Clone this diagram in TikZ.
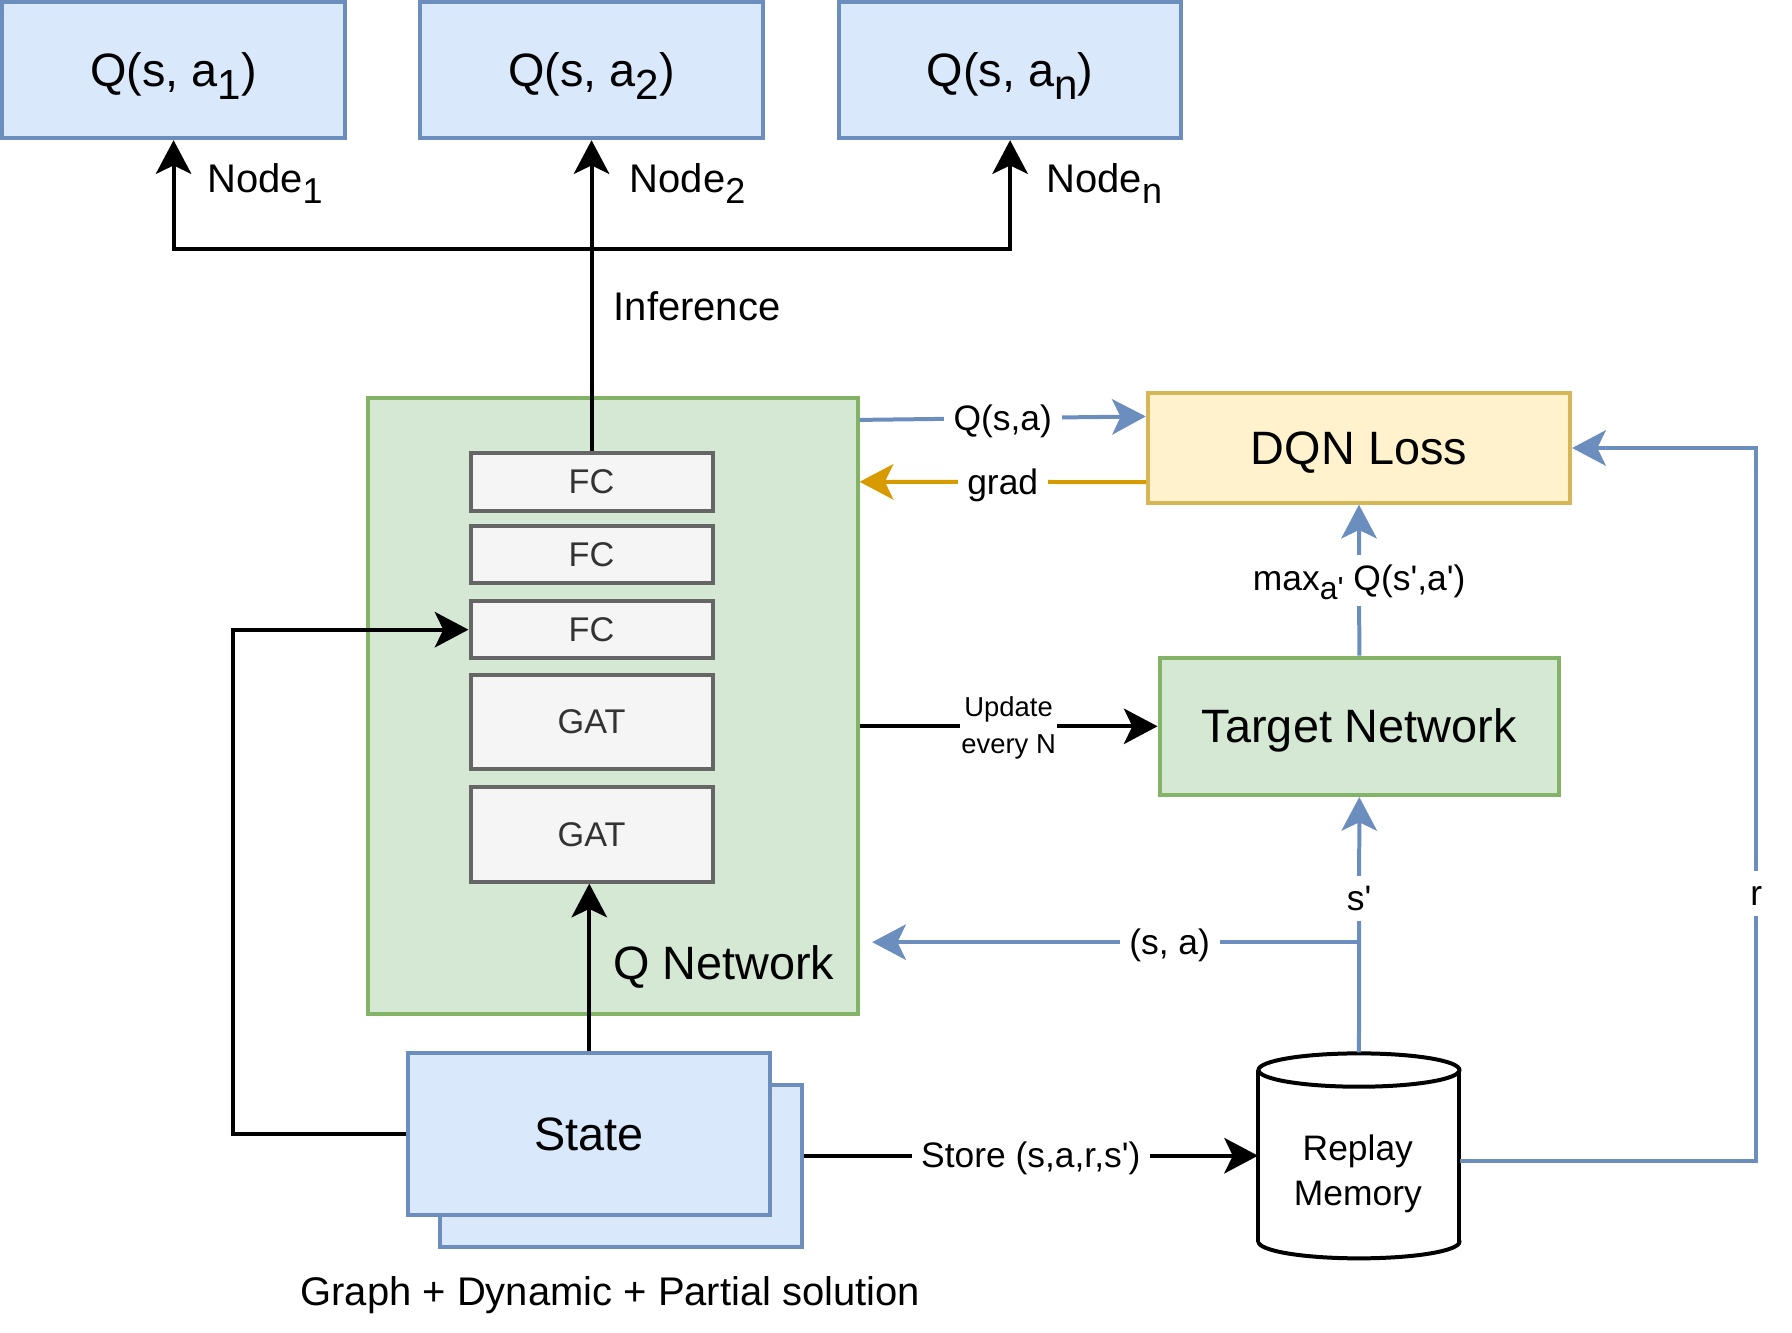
\documentclass[tikz,border=0pt]{standalone}
\usepackage{fontspec}
\setmainfont{Liberation Sans}
\usepackage{graphicx}
\usetikzlibrary{arrows.meta,calc}
\definecolor{bfill}{HTML}{DAE8FC}
\definecolor{bline}{HTML}{6C8EBF}
\definecolor{gfill}{HTML}{D5E8D4}
\definecolor{gline}{HTML}{82B366}
\definecolor{lfill}{HTML}{F5F5F5}
\definecolor{lline}{HTML}{666666}
\definecolor{ltext}{HTML}{333333}
\definecolor{yfill}{HTML}{FFF2CC}
\definecolor{yline}{HTML}{D6B656}
\definecolor{oline}{HTML}{D79B00}
\newcommand\sbs[1]{\raisebox{-0.27em}{\scalebox{0.9}{#1}}}
\newcommand\qs{\textquotesingle}
\begin{document}
\begin{tikzpicture}[x=0.5pt,y=-0.5pt,
  bigf/.style={font=\fontsize{20.5}{24.6}\selectfont},
  medf/.style={font=\fontsize{17.5}{21}\selectfont},
  lblf/.style={font=\fontsize{15.5}{18.6}\selectfont},
  smf/.style={font=\fontsize{12}{16}\selectfont},
  box/.style={draw, line width=1.75pt, inner sep=0pt, bigf, text height=18.55pt, text depth=4.35pt},
  qbox/.style={box, fill=bfill, draw=bline, minimum width=150pt, minimum height=59.5pt},
  lyr/.style={draw=lline, fill=lfill, line width=1.75pt, text=ltext, font=\fontsize{15}{18}\selectfont, minimum width=106pt, inner sep=0pt},
  arrowhd/.style={-{Stealth[length=14.75pt,width=15.5pt,inset=3.7pt]}},
  arr/.style={arrowhd, line width=1.75pt, draw=black},
  barr/.style={arr, draw=bline},
  oarr/.style={arr, draw=oline},
  lbl/.style={fill=white, text=black, inner xsep=4.25pt, inner ysep=1.25pt, lblf, text height=14.03pt, text depth=3.29pt},
  txt/.style={inner sep=0pt, text=black}
]
\useasboundingbox (0,0) rectangle (1569.2,1166.4);

% top Q boxes
\node[qbox] (q1) at (152,61.5) {Q(s, a\sbs{1})};
\node[qbox] (q2) at (518,61.5) {Q(s, a\sbs{2})};
\node[qbox] (qN) at (884.5,61.5) {Q(s, a\sbs{n})};

% Q network
\node[box, fill=gfill, draw=gline, minimum width=214.5pt, minimum height=269.75pt] (qn) at (536.5,618.2) {};
\node[lyr, minimum height=25.5pt] (fc1) at (518,422) {FC};
\node[lyr, minimum height=25pt] (fc2) at (518,485.3) {FC};
\node[lyr, minimum height=25pt] (fc3) at (518,551.4) {FC};
\node[lyr, minimum height=41.35pt] (gat1) at (518,632.4) {GAT};
\node[lyr, minimum height=41.5pt] (gat2) at (518,730.5) {GAT};
\node[txt, bigf, anchor=base east] (qnl) at (731,858) {Q Network};

% DQN loss and target
\node[box, fill=yfill, draw=yline, minimum width=184.9pt, minimum height=47.9pt] (dqn) at (1190,392.3) {DQN Loss};
\node[box, fill=gfill, draw=gline, minimum width=174.9pt, minimum height=60.15pt] (tn) at (1190.3,636) {Target Network};

% state
\node[box, fill=bfill, draw=bline, minimum width=158.35pt, minimum height=70.85pt] (stb) at (543.6,1020.9) {};
\node[box, fill=bfill, draw=bline, minimum width=158.35pt, minimum height=70.85pt] (st) at (516,993) {State};
\node[txt, medf, anchor=base] (cap) at (534.5,1143.3) {Graph + Dynamic + Partial solution};

% replay memory cylinder
\node[minimum width=88pt, minimum height=90pt, inner sep=0pt] (rm) at (1190,1012) {};
\draw[line width=1.75pt, fill=white] (1190,1087.3) ellipse [x radius=88, y radius=14.6];
\fill[white] (1102,937) rectangle (1278,1087.3);
\draw[line width=1.75pt] (1102,937) -- (1102,1087.3);
\draw[line width=1.75pt] (1278,937) -- (1278,1087.3);
\draw[line width=1.75pt, fill=white] (1190,937) ellipse [x radius=88, y radius=14.6];
\node[txt, align=center, font=\fontsize{15.5}{19.5}\selectfont] (rmt) at (1189,1028) {Replay\\Memory};

% inference connectors
\coordinate (jn) at (518,218.3);
\draw[arr] (fc1.north) -- (q2.south);
\draw[arr] (jn) -| (q1.south);
\draw[arr] (jn) -| (qN.south);
\node[txt, medf, anchor=base west] (n1) at (181,168.5) {Node\sbs{1}};
\node[txt, medf, anchor=base west] (n2) at (551,168.5) {Node\sbs{2}};
\node[txt, medf, anchor=base west] (nn) at (916,168.5) {Node\sbs{n}};
\node[txt, medf, anchor=base west] (inf) at (537,280.8) {Inference};

% state connectors
\coordinate (lc) at (204.3,551.4);
\draw[arr] (st.west) -| (lc) -- (fc3.west);
\draw[arr] (st.north) -- (st.north |- gat2.south);
\draw[arr] (stb.east |- rm.west) -- node[lbl]{Store (s,a,r,s\qs)} (rm.west);

% replay memory connectors
\draw[barr] (rm.north) -- node[lbl, pos=0.603]{s\qs} (tn.south);
\coordinate (br) at (1190,825);
\draw[barr] (br) -- node[lbl, pos=0.389]{(s, a)} ($(qn.east |- br)+(11,0)$);
\coordinate (rc1) at (1538,1017);
\coordinate (rc2) at (1538,392.3);
\draw[barr] ($(rm.east)+(0,5)$) -- (rc1) -- node[lbl, pos=0.376]{r} (rc2) -- (dqn.east);

% loss connectors
\draw[barr] (tn.north) -- node[lbl, inner ysep=1.5pt, text depth=5.4pt]{max\sbs{a\qs} Q(s\qs,a\qs)} (dqn.south);
\draw[barr] ($(qn.north east)+(0,21)$) -- node[lbl]{Q(s,a)} ($(dqn.north west)+(0,22)$);
\draw[oarr] ($(dqn.north west)+(0,79.5)$) -- node[lbl]{grad} ($(qn.north east)+(0,75.2)$);
\draw[arr] (qn.east |- tn.west) -- node[fill=white, text=black, smf, inner xsep=0.5pt, inner ysep=1pt, align=center, yshift=-0.75pt]{Update\\every N} (tn.west);
\end{tikzpicture}
\end{document}
